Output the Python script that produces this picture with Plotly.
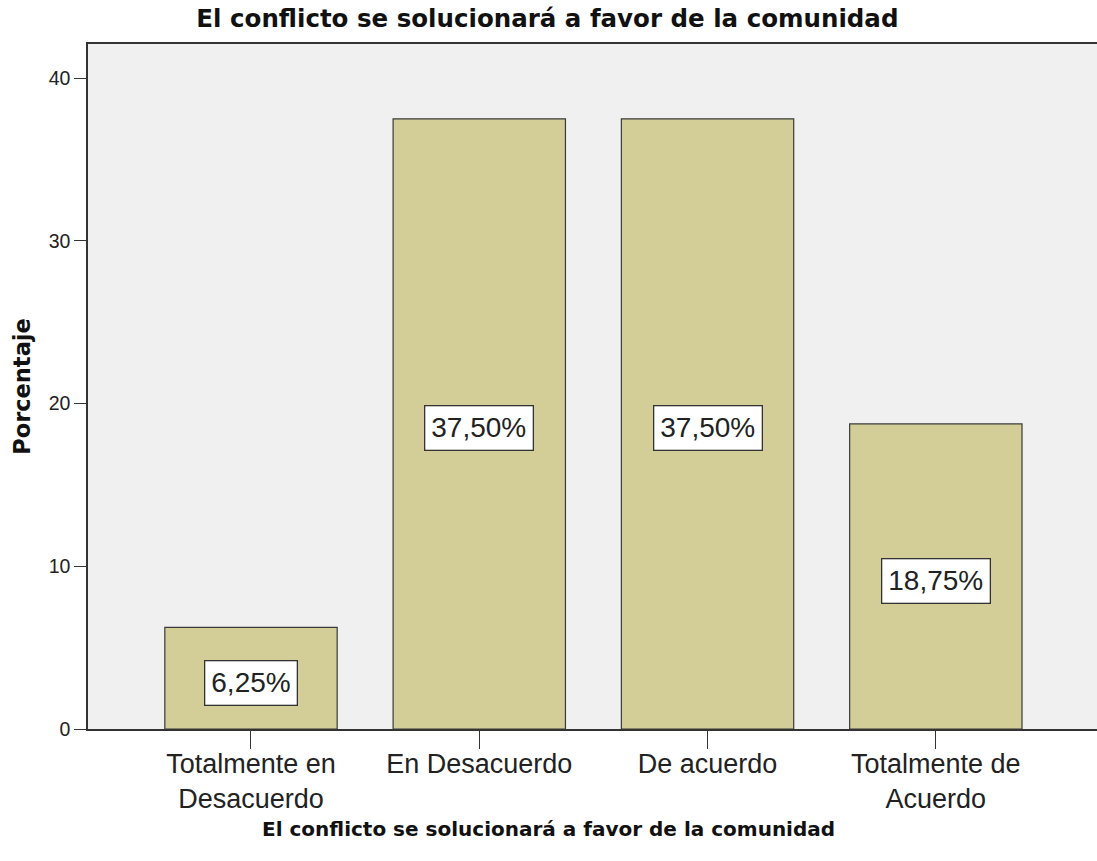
import plotly.graph_objects as go

categories = ["Totalmente en<br>Desacuerdo", "En Desacuerdo", "De acuerdo", "Totalmente de<br>Acuerdo"]
percentages = [6.25, 37.50, 37.50, 18.75]
value_labels = ["6,25%", "37,50%", "37,50%", "18,75%"]
y_ticks = [0, 10, 20, 30, 40]

title_text = "El conflicto se solucionará a favor de la comunidad"
regular_font = "Arial, Liberation Sans, sans-serif"
bold_font = "DejaVu Sans, Arial, sans-serif"

fig = go.Figure()
fig.add_trace(go.Bar(
    x=list(range(len(categories))),
    y=percentages,
    width=0.755,
    marker=dict(color="#D3CE97", line=dict(color="#3a3a3a", width=1.2)),
    hoverinfo="skip",
))

# value boxes sit roughly half way up each bar
for i, (val, lab) in enumerate(zip(percentages, value_labels)):
    fig.add_annotation(
        x=i, y=val / 2 - 0.28, text=lab, showarrow=False,
        font=dict(family=regular_font, size=28, color="#222"),
        bgcolor="white", bordercolor="#333", borderwidth=1.3, borderpad=6,
    )

# x axis title is centred on the page, not on the plot area
fig.add_annotation(
    text="<b>" + title_text + "</b>", xref="paper", yref="paper",
    x=(548 - 88) / 1009, y=-(829 - 729) / 685, xanchor="center", yanchor="middle",
    showarrow=False, font=dict(family=bold_font, size=20, color="#111"),
)

fig.update_layout(
    width=1097, height=861,
    margin=dict(l=88, r=0, t=44, b=132),
    paper_bgcolor="white", plot_bgcolor="#F0F0F0",
    showlegend=False,
    font=dict(family=regular_font, color="#222"),
    title=dict(text="<b>" + title_text + "</b>", x=0.499, xanchor="center",
               y=0.979, yanchor="middle",
               font=dict(family=bold_font, size=24.5, color="#111")),
)

fig.update_xaxes(
    tickmode="array", tickvals=list(range(len(categories))), ticktext=categories,
    range=[-0.714, 3.706], showgrid=False, zeroline=False,
    showline=True, mirror=True, linecolor="#333", linewidth=1.5,
    ticks="outside", ticklen=18, tickcolor="#333", tickwidth=1.3,
    tickfont=dict(size=27, color="#222"), ticklabelstandoff=-8,
)
fig.update_yaxes(
    range=[0, 42.1], tickvals=y_ticks, showgrid=False, zeroline=False,
    showline=True, linecolor="#333", linewidth=1.5,
    ticks="outside", ticklen=12, tickcolor="#333", tickwidth=1.3,
    tickfont=dict(size=19.5, color="#222"),
    title=dict(text="<b>Porcentaje</b>",
               font=dict(family=bold_font, size=22.5, color="#111"), standoff=12),
)

fig.write_html(
    "out.html",
    config={"displayModeBar": False},
    post_script="document.body.style.margin='0';document.body.style.overflow='hidden';",
)
